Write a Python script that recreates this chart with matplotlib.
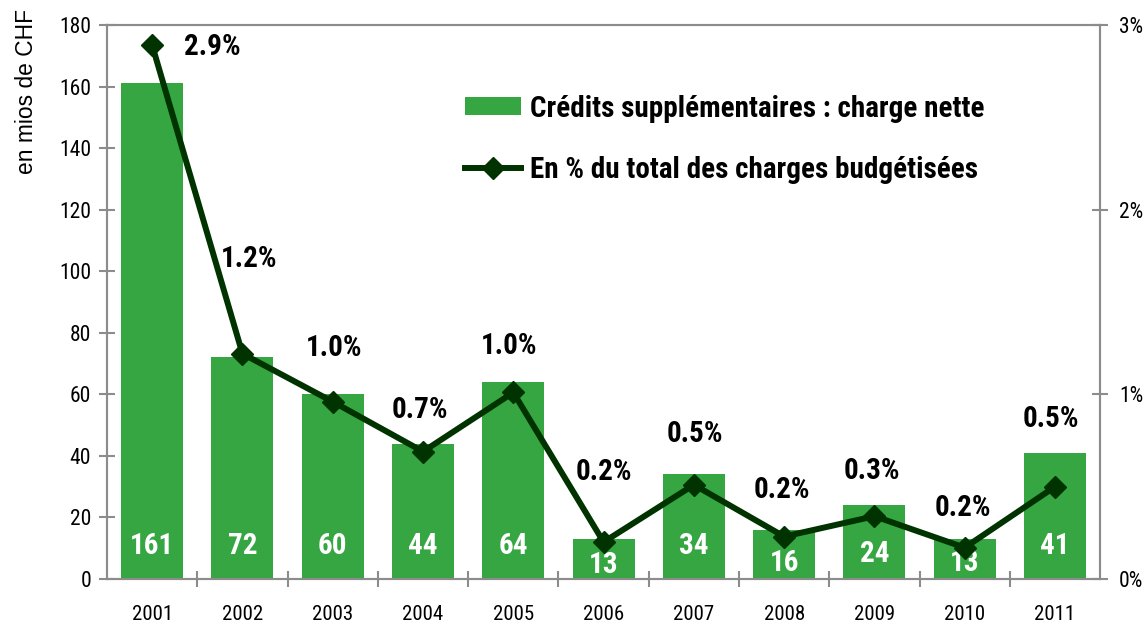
import matplotlib
matplotlib.use("Agg")
import matplotlib.pyplot as plt
from matplotlib.patches import Patch
from matplotlib.lines import Line2D
import numpy as np

years = ["2001", "2002", "2003", "2004", "2005", "2006", "2007", "2008", "2009", "2010", "2011"]
credits = [161, 72, 60, 44, 64, 13, 34, 16, 24, 13, 41]
pct = [2.89, 1.22, 0.96, 0.69, 1.01, 0.20, 0.51, 0.23, 0.34, 0.17, 0.50]
pct_labels = ["2.9%", "1.2%", "1.0%", "0.7%", "1.0%", "0.2%", "0.5%", "0.2%", "0.3%", "0.2%", "0.5%"]
left_ticks = list(range(0, 181, 20))
right_ticks = [0, 1, 2, 3]
right_labels = ["0%", "1%", "2%", "3%"]

# label placement offsets in pixels (layout only)
pct_dx = [60, 7, 1, -3, -4, 0, 1, -2, -3, -2, -4]
pct_dy = [-2, 95, 54, 42, 46, 70, 51, 47, 45, 40, 68]
bar_lbl_px = [33, 33, 33, 33, 33, 14, 33, 16, 25, 16, 33]

COND = ['Roboto Condensed', 'Archivo Narrow', 'DejaVu Sans']
plt.rcParams['font.family'] = COND

BAR = '#35a641'
LINE = '#003300'
GRAY = '#8c8c8c'

fig = plt.figure(figsize=(11.46, 6.31), dpi=100)
ax = fig.add_axes([0.0934, 0.0824, 0.8666, 0.878])
x = np.arange(len(years))
ax.bar(x, credits, width=0.687, color=BAR, zorder=2)
ax.set_xlim(-0.5, len(years) - 0.5)
ax.set_ylim(0, 180)
ax.set_yticks(left_ticks)
ax.set_xticks(x)
ax.set_xticklabels(years, fontsize=15)
ax.set_xticks(np.arange(-0.5, len(years), 1.0)[1:-1], minor=True)
ax.tick_params(axis='x', which='major', length=0, pad=19)
ax.tick_params(axis='x', which='minor', length=11, direction='inout', color=GRAY, width=1.5)
ax.tick_params(axis='y', length=11, direction='inout', color=GRAY, width=1.5, labelsize=15.5, pad=6)
for s in ax.spines.values():
    s.set_color(GRAY)
    s.set_linewidth(1.5)

fig.text(27 / 1146, 1 - 92 / 631, "en mios de CHF", rotation=90, ha='center', va='center',
         fontsize=16.4, family=['Liberation Sans', 'DejaVu Sans'])

px_per_unit = ax.get_position().height * 631 / 180
for xi, v, ly in zip(x, credits, bar_lbl_px):
    ax.text(xi, ly / px_per_unit, str(v), ha='center', va='center', color='white',
            fontsize=21, fontweight='bold', zorder=5)

ax2 = ax.twinx()
ax2.set_ylim(0, 3)
ax2.set_yticks(right_ticks)
ax2.set_yticklabels(right_labels)
ax2.tick_params(axis='y', length=11, direction='inout', color=GRAY, width=1.5, labelsize=15.5, pad=8)
for s in ax2.spines.values():
    s.set_color(GRAY)
    s.set_linewidth(1.5)
ax2.plot(x, pct, color=LINE, lw=4.3, marker='D', markersize=11, zorder=4)
for xi, v, lab, dx, dy in zip(x, pct, pct_labels, pct_dx, pct_dy):
    ax2.annotate(lab, (xi, v), xytext=(dx, dy), textcoords='offset pixels',
                 ha='center', va='center', fontsize=21, fontweight='bold', color='black')

handles = [Patch(facecolor=BAR, edgecolor='none'),
           Line2D([0], [0], color=LINE, lw=4.3, marker='D', markersize=11)]
labels = ["Crédits supplémentaires : charge nette", "En % du total des charges budgétisées"]
leg = fig.legend(handles, labels, loc='upper left', bbox_to_anchor=(450 / 1146, 1 - 80 / 631),
                 frameon=False, handlelength=1.95, handleheight=0.58, borderpad=0,
                 labelspacing=1.15, handletextpad=0.28, prop={'weight': 'bold', 'size': 21})

fig.savefig("out.png", dpi=100)
